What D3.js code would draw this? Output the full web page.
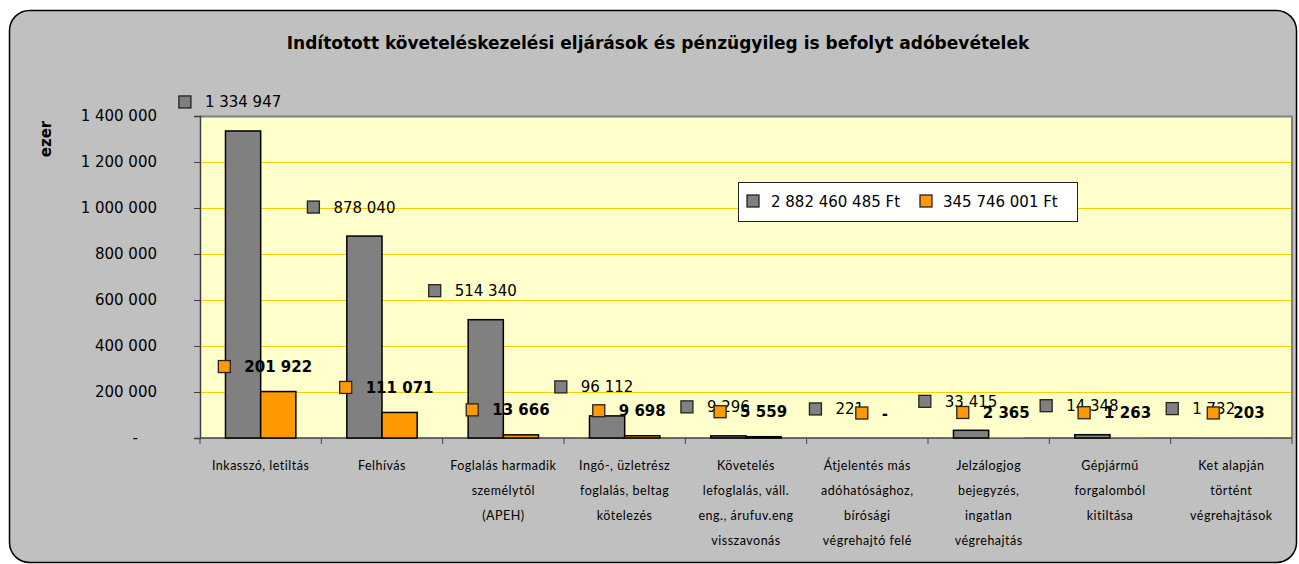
<!DOCTYPE html>
<html>
<head>
<meta charset="utf-8">
<script src="https://cdn.jsdelivr.net/npm/d3@7/dist/d3.min.js"></script>
<style>
  html, body { margin: 0; padding: 0; background: #ffffff; }
  svg { display: block; }
</style>
</head>
<body>
<svg id="chart" width="1299" height="564"></svg>
<script>
// ---- data ----
const categories = [
  ["Inkasszó, letiltás"],
  ["Felhívás"],
  ["Foglalás harmadik", "személytől", "(APEH)"],
  ["Ingó-, üzletrész", "foglalás, beltag", "kötelezés"],
  ["Követelés", "lefoglalás, váll.", "eng., árufuv.eng", "visszavonás"],
  ["Átjelentés más", "adóhatósághoz,", "bírósági", "végrehajtó felé"],
  ["Jelzálogjog", "bejegyzés,", "ingatlan", "végrehajtás"],
  ["Gépjármű", "forgalomból", "kitiltása"],
  ["Ket alapján", "történt", "végrehajtások"]
];
const seriesNames = ["2 882 460 485 Ft", "345 746 001 Ft"];
const grayValues   = [1334947, 878040, 514340, 96112, 9296, 221, 33415, 14348, 1732];
const orangeValues = [201922, 111071, 13666, 9698, 5559, 0, 2365, 1263, 203];
const yTicks = [0, 200000, 400000, 600000, 800000, 1000000, 1200000, 1400000];
const title = "Indítotott követeléskezelési eljárások és pénzügyileg is befolyt adóbevételek";
const yTitle = "ezer";

// ---- layout ----
const W = 1299, H = 564;
const plot = { left: 200, right: 1292, top: 116, bottom: 438 };
const colors = { gray: "#808080", orange: "#FF9900" };
const numFont = "'DejaVu Sans', sans-serif";
const catFont = "Lato, 'Open Sans', sans-serif";

const fmt = v => v === 0 ? "-" : d3.format(",")(v).replace(/,/g, " ");

const svg = d3.select("#chart");

// outer frame
svg.append("rect")
  .attr("x", 9.5).attr("y", 10.5)
  .attr("width", 1287).attr("height", 552)
  .attr("rx", 20).attr("ry", 20)
  .attr("fill", "#C0C0C0")
  .attr("stroke", "#000").attr("stroke-width", 1.5);

// title
svg.append("text")
  .attr("x", 658).attr("y", 49)
  .attr("text-anchor", "middle")
  .attr("font-family", numFont)
  .attr("font-weight", "bold")
  .attr("font-size", 17)
  .attr("fill", "#000")
  .text(title);

// scales
const x0 = d3.scaleBand()
  .domain(d3.range(categories.length))
  .range([plot.left, plot.right])
  .paddingInner(0.42).paddingOuter(0.21);
const x1 = d3.scaleBand().domain([0, 1]).range([0, x0.bandwidth()]);
const y = d3.scaleLinear().domain([0, 1400000]).range([plot.bottom, plot.top]);
const step = (plot.right - plot.left) / categories.length;

// plot area
svg.append("rect")
  .attr("x", plot.left).attr("y", plot.top)
  .attr("width", plot.right - plot.left).attr("height", plot.bottom - plot.top)
  .attr("fill", "#FFFFCC");

// gridlines
svg.append("g").selectAll("line")
  .data(yTicks.filter(t => t > 0 && t < 1400000))
  .join("line")
  .attr("x1", plot.left).attr("x2", plot.right)
  .attr("y1", d => Math.round(y(d)) + 0.5).attr("y2", d => Math.round(y(d)) + 0.5)
  .attr("stroke", "#FFCC00").attr("stroke-width", 1);

// plot border (top and right)
svg.append("path")
  .attr("d", `M${plot.left},${plot.top + 0.5}H${plot.right}V${plot.bottom}`)
  .attr("fill", "none").attr("stroke", "#808080").attr("stroke-width", 2);

// y axis
const yAxis = d3.axisLeft(y).tickValues(yTicks).tickSize(6).tickPadding(37)
  .tickFormat(fmt);
const gy = svg.append("g").attr("transform", `translate(${plot.left},0)`).call(yAxis);
gy.select(".domain").attr("stroke", "#404040").attr("stroke-width", 1.5);
gy.selectAll(".tick line").attr("stroke", "#404040");
gy.selectAll(".tick text")
  .attr("font-family", numFont).attr("font-size", 15).attr("fill", "#000")
  .attr("dx", d => d === 0 ? -19 : 0);

// x axis (category boundaries)
const gx = svg.append("g");
gx.append("line")
  .attr("x1", plot.left).attr("x2", plot.right)
  .attr("y1", plot.bottom).attr("y2", plot.bottom)
  .attr("stroke", "#404040").attr("stroke-width", 1.5);
gx.selectAll("line.tk")
  .data(d3.range(categories.length + 1))
  .join("line").attr("class", "tk")
  .attr("x1", i => plot.left + i * step).attr("x2", i => plot.left + i * step)
  .attr("y1", plot.bottom).attr("y2", plot.bottom + 6)
  .attr("stroke", "#404040").attr("stroke-width", 1);

// category labels
const catG = svg.append("g");
categories.forEach((lines, i) => {
  const cx = x0(i) + x0.bandwidth() / 2;
  const t = catG.append("text")
    .attr("text-anchor", "middle")
    .attr("font-family", catFont)
    .attr("font-size", 12.5)
    .attr("letter-spacing", 0.5)
    .attr("fill", "#000");
  lines.forEach((ln, k) => {
    t.append("tspan").attr("x", cx).attr("y", 470 + k * 25).text(ln);
  });
});

// bars
const series = [
  { values: grayValues, color: colors.gray, idx: 0, bold: false, off: 29 },
  { values: orangeValues, color: colors.orange, idx: 1, bold: true, off: 25 }
];
series.forEach(s => {
  svg.append("g").selectAll("rect")
    .data(s.values)
    .join("rect")
    .attr("x", (d, i) => x0(i) + x1(s.idx))
    .attr("y", d => y(d))
    .attr("width", x1.bandwidth())
    .attr("height", d => y(0) - y(d))
    .attr("fill", s.color)
    .attr("stroke", d => (y(0) - y(d)) >= 1 ? "#000" : "none")
    .attr("stroke-width", 1.5);
});

// data labels (gray first, then orange on top)
series.forEach(s => {
  const g = svg.append("g");
  s.values.forEach((v, i) => {
    const cx = x0(i) + x1(s.idx) + x1.bandwidth() / 2;
    const cy = y(v) - s.off;
    const t = g.append("text")
      .attr("x", cx).attr("y", cy + 5.5)
      .attr("text-anchor", "middle")
      .attr("font-family", numFont)
      .attr("font-size", 15)
      .attr("font-weight", s.bold ? "bold" : "normal")
      .attr("fill", "#000")
      .text(fmt(v));
    const tw = t.node().getComputedTextLength();
    const mx = cx - tw / 2 - 20;
    g.append("rect")
      .attr("x", mx - 6).attr("y", cy - 6)
      .attr("width", 12).attr("height", 12)
      .attr("fill", s.color).attr("stroke", "#222").attr("stroke-width", 1.3);
  });
});

// legend
const lg = svg.append("g");
lg.append("rect")
  .attr("x", 738.5).attr("y", 182.5).attr("width", 339).attr("height", 39)
  .attr("fill", "#fff").attr("stroke", "#222").attr("stroke-width", 1);
const legendItems = [
  { name: seriesNames[0], color: colors.gray, mx: 753, tx: 771 },
  { name: seriesNames[1], color: colors.orange, mx: 926, tx: 943 }
];
legendItems.forEach(it => {
  lg.append("rect")
    .attr("x", it.mx - 6).attr("y", 195).attr("width", 12).attr("height", 12)
    .attr("fill", it.color).attr("stroke", "#222").attr("stroke-width", 1.3);
  lg.append("text")
    .attr("x", it.tx).attr("y", 206.5)
    .attr("font-family", numFont).attr("font-size", 15).attr("fill", "#000")
    .text(it.name);
});

// y title
svg.append("text")
  .attr("transform", "translate(51,139) rotate(-90)")
  .attr("text-anchor", "middle")
  .attr("font-family", numFont).attr("font-weight", "bold").attr("font-size", 15)
  .attr("fill", "#000")
  .text(yTitle);
</script>
</body>
</html>
